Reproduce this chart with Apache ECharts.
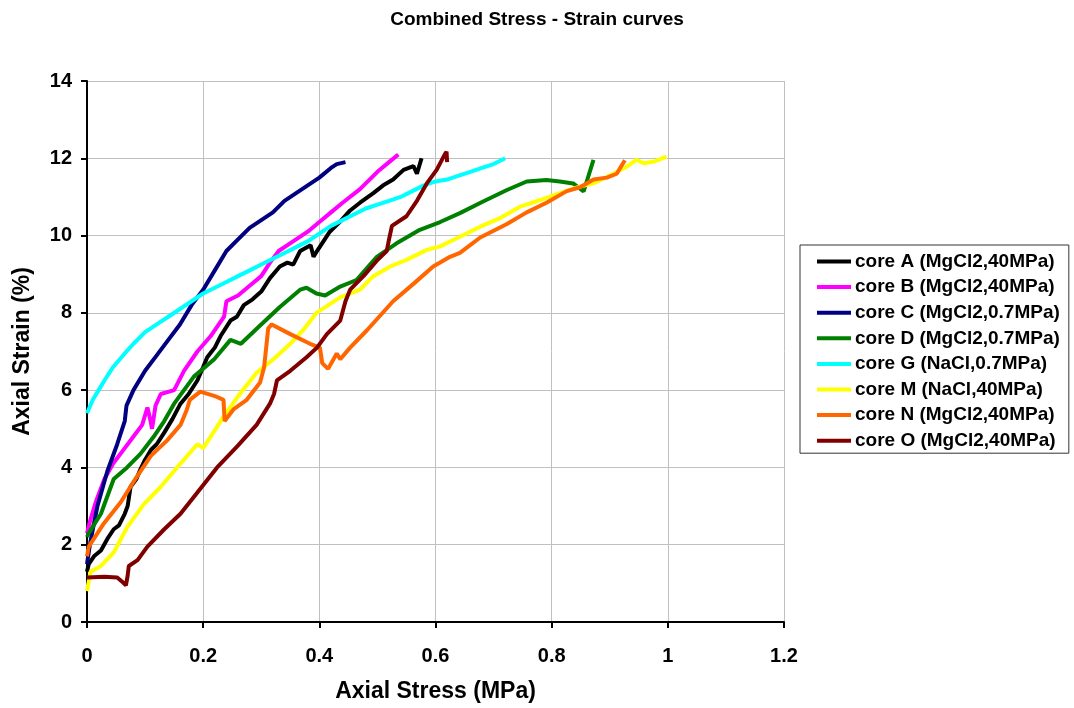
<!DOCTYPE html>
<html>
<head>
<meta charset="utf-8">
<script src="https://cdn.jsdelivr.net/npm/echarts@6/dist/echarts.min.js"></script>
<style>
html,body{margin:0;padding:0;background:#fff;}
#chart{width:1074px;height:708px;}
</style>
</head>
<body>
<div id="chart"></div>
<script>
var seriesNames = ['core A (MgCl2,40MPa)','core B (MgCl2,40MPa)','core C (MgCl2,0.7MPa)','core D (MgCl2,0.7MPa)','core G (NaCl,0.7MPa)','core M (NaCl,40MPa)','core N (MgCl2,40MPa)','core O (MgCl2,40MPa)'];
var seriesColors = ['#000000','#ff00ff','#000080','#008000','#00ffff','#ffff00','#ff6600','#800000'];

var coreA = [[0,1.3],[0.003,1.5],[0.012,1.7],[0.024,1.85],[0.035,2.15],[0.046,2.4],[0.055,2.5],[0.065,2.8],[0.07,3.0],[0.075,3.5],[0.085,3.7],[0.092,3.95],[0.1,4.2],[0.11,4.45],[0.12,4.6],[0.133,4.9],[0.147,5.25],[0.161,5.65],[0.175,5.9],[0.19,6.25],[0.2,6.6],[0.207,6.85],[0.22,7.1],[0.23,7.4],[0.247,7.8],[0.258,7.9],[0.27,8.2],[0.285,8.35],[0.3,8.55],[0.315,8.9],[0.332,9.2],[0.345,9.3],[0.355,9.25],[0.367,9.6],[0.385,9.75],[0.39,9.45],[0.396,9.6],[0.418,10.1],[0.435,10.35],[0.453,10.65],[0.47,10.85],[0.493,11.1],[0.51,11.3],[0.527,11.45],[0.545,11.7],[0.562,11.8],[0.568,11.6],[0.576,12.0]];
var coreB = [[0,2.3],[0.005,2.6],[0.015,3.1],[0.03,3.7],[0.045,4.1],[0.065,4.5],[0.08,4.8],[0.095,5.1],[0.104,5.55],[0.108,5.3],[0.112,5.0],[0.118,5.6],[0.127,5.9],[0.15,6.0],[0.167,6.5],[0.19,7.0],[0.213,7.4],[0.236,7.9],[0.24,8.3],[0.26,8.45],[0.28,8.7],[0.3,8.95],[0.315,9.3],[0.33,9.6],[0.36,9.9],[0.38,10.1],[0.4,10.35],[0.42,10.6],[0.44,10.85],[0.47,11.2],[0.5,11.65],[0.52,11.9],[0.536,12.1]];
var coreC = [[0,1.5],[0.005,2.0],[0.01,2.4],[0.018,3.0],[0.035,3.9],[0.052,4.6],[0.065,5.2],[0.068,5.6],[0.08,6.0],[0.1,6.5],[0.12,6.9],[0.14,7.3],[0.16,7.7],[0.18,8.2],[0.2,8.6],[0.22,9.1],[0.24,9.6],[0.26,9.9],[0.28,10.2],[0.3,10.4],[0.32,10.6],[0.34,10.9],[0.36,11.1],[0.38,11.3],[0.4,11.5],[0.42,11.75],[0.43,11.85],[0.445,11.9]];
var coreD = [[0,2.2],[0.003,2.3],[0.024,2.8],[0.046,3.7],[0.069,4.0],[0.092,4.35],[0.115,4.8],[0.133,5.2],[0.15,5.65],[0.184,6.35],[0.219,6.8],[0.247,7.3],[0.265,7.2],[0.293,7.6],[0.332,8.15],[0.367,8.6],[0.378,8.65],[0.395,8.5],[0.41,8.45],[0.436,8.68],[0.464,8.85],[0.499,9.45],[0.533,9.8],[0.573,10.15],[0.608,10.35],[0.642,10.58],[0.682,10.88],[0.723,11.18],[0.757,11.4],[0.791,11.44],[0.814,11.4],[0.837,11.35],[0.855,11.14],[0.872,11.96]];
var coreG = [[0,5.4],[0.01,5.75],[0.02,6.0],[0.03,6.25],[0.045,6.6],[0.065,6.95],[0.08,7.2],[0.1,7.5],[0.12,7.7],[0.14,7.9],[0.16,8.1],[0.18,8.3],[0.2,8.5],[0.22,8.65],[0.24,8.8],[0.26,8.95],[0.28,9.1],[0.3,9.25],[0.32,9.4],[0.34,9.55],[0.36,9.7],[0.38,9.85],[0.4,10.05],[0.42,10.25],[0.44,10.4],[0.46,10.55],[0.48,10.7],[0.5,10.8],[0.52,10.9],[0.54,11.0],[0.56,11.15],[0.58,11.3],[0.6,11.4],[0.62,11.45],[0.64,11.55],[0.66,11.65],[0.68,11.75],[0.7,11.85],[0.72,12.0]];
var coreM = [[0,0.8],[0.006,1.3],[0.024,1.45],[0.046,1.8],[0.069,2.45],[0.098,3.05],[0.127,3.5],[0.161,4.1],[0.19,4.6],[0.2,4.5],[0.224,5.05],[0.232,5.25],[0.263,5.9],[0.292,6.45],[0.321,6.8],[0.35,7.2],[0.372,7.55],[0.395,8.0],[0.436,8.4],[0.47,8.6],[0.493,8.95],[0.522,9.2],[0.55,9.37],[0.585,9.63],[0.608,9.72],[0.642,9.97],[0.677,10.23],[0.711,10.45],[0.746,10.75],[0.78,10.92],[0.814,11.1],[0.849,11.27],[0.872,11.35],[0.906,11.6],[0.929,11.78],[0.946,11.96],[0.958,11.87],[0.975,11.91],[0.998,12.04]];
var coreN = [[0,1.7],[0.003,1.95],[0.029,2.55],[0.058,3.1],[0.081,3.65],[0.11,4.3],[0.138,4.7],[0.161,5.1],[0.172,5.5],[0.177,5.75],[0.195,5.96],[0.223,5.83],[0.235,5.75],[0.237,5.2],[0.252,5.5],[0.275,5.75],[0.298,6.2],[0.305,6.6],[0.312,7.6],[0.318,7.7],[0.35,7.45],[0.384,7.2],[0.401,7.1],[0.405,6.7],[0.415,6.55],[0.43,6.95],[0.436,6.8],[0.453,7.1],[0.482,7.55],[0.527,8.3],[0.562,8.75],[0.596,9.2],[0.625,9.45],[0.642,9.55],[0.677,9.95],[0.723,10.3],[0.757,10.6],[0.791,10.85],[0.826,11.15],[0.849,11.25],[0.872,11.45],[0.895,11.5],[0.912,11.6],[0.926,11.95]];
var coreO = [[0,1.15],[0.03,1.17],[0.052,1.15],[0.06,1.05],[0.067,0.95],[0.07,1.2],[0.072,1.45],[0.087,1.6],[0.104,1.95],[0.133,2.4],[0.161,2.8],[0.19,3.35],[0.224,4.0],[0.259,4.55],[0.292,5.1],[0.315,5.65],[0.322,5.9],[0.327,6.25],[0.35,6.5],[0.378,6.85],[0.396,7.1],[0.413,7.45],[0.436,7.8],[0.445,8.3],[0.453,8.6],[0.476,8.95],[0.499,9.35],[0.516,9.6],[0.52,9.9],[0.525,10.25],[0.55,10.5],[0.568,10.9],[0.585,11.35],[0.602,11.7],[0.616,12.1],[0.619,12.17],[0.62,11.9]];

var allData = [coreA, coreB, coreC, coreD, coreG, coreM, coreN, coreO];
var titleText = 'Combined Stress - Strain curves';
var xName = 'Axial Stress (MPa)';
var yName = 'Axial Strain (%)';

var FONT = 'Arial, "Liberation Sans", sans-serif';
var chart = echarts.init(document.getElementById('chart'), null, {renderer: 'canvas'});
chart.setOption({
  animation: false,
  backgroundColor: '#ffffff',
  title: {
    text: titleText, left: 'center', top: 5,
    textStyle: {fontFamily: FONT, fontWeight: 'bold', fontSize: 19, color: '#000'}
  },
  legend: {
    orient: 'vertical', left: 800, top: 245,
    data: seriesNames,
    icon: 'rect', itemWidth: 34, itemHeight: 4, itemGap: 6.6,
    itemStyle: {borderWidth: 0},
    padding: [7, 9, 3, 17],
    borderColor: '#333', borderWidth: 1,
    textStyle: {fontFamily: FONT, fontWeight: 'bold', fontSize: 19, color: '#000', lineHeight: 19, padding: [0,0,0,-1]}
  },
  grid: {left: 87, right: 290, top: 81, bottom: 86, containLabel: false},
  xAxis: {
    type: 'value', min: 0, max: 1.2, interval: 0.2,
    name: xName, nameLocation: 'middle', nameGap: 58,
    nameTextStyle: {fontFamily: FONT, fontWeight: 'bold', fontSize: 23, color: '#000'},
    axisLine: {show: true, onZero: false, lineStyle: {color: '#000', width: 2}},
    axisTick: {show: true, inside: false, length: 6, lineStyle: {color: '#000', width: 2}},
    axisLabel: {fontFamily: FONT, fontWeight: 'bold', fontSize: 20, color: '#000', margin: 24},
    splitLine: {show: true, lineStyle: {color: '#c0c0c0', width: 1}}
  },
  yAxis: {
    type: 'value', min: 0, max: 14, interval: 2,
    name: yName, nameLocation: 'middle', nameGap: 53,
    nameTextStyle: {fontFamily: FONT, fontWeight: 'bold', fontSize: 23, color: '#000'},
    axisLine: {show: true, onZero: false, lineStyle: {color: '#000', width: 2}},
    axisTick: {show: true, inside: false, length: 6, lineStyle: {color: '#000', width: 2}},
    axisLabel: {fontFamily: FONT, fontWeight: 'bold', fontSize: 20, color: '#000', margin: 15},
    splitLine: {show: true, lineStyle: {color: '#c0c0c0', width: 1}}
  },
  series: allData.map(function (d, i) {
    return {
      name: seriesNames[i], type: 'line', data: d,
      showSymbol: false, symbol: 'none', smooth: false,
      itemStyle: {color: seriesColors[i]},
      lineStyle: {color: seriesColors[i], width: 4}
    };
  })
});
</script>
</body>
</html>
